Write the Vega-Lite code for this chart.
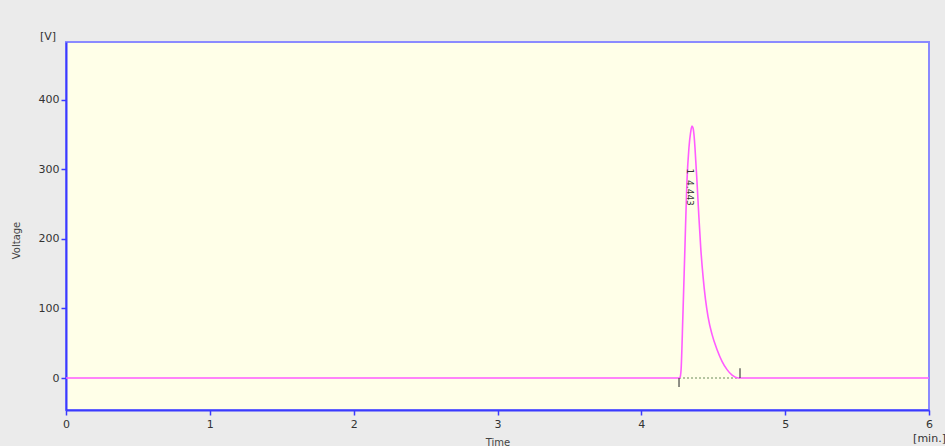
{
  "$schema": "https://vega.github.io/schema/vega-lite/v6.json",
  "width": 863,
  "height": 368,
  "autosize": "none",
  "padding": {"left": 66, "top": 42, "right": 16, "bottom": 36},
  "background": "#ebebeb",
  "config": {
    "view": {"fill": "#ffffe8", "stroke": "#8a8aff", "strokeWidth": 2},
    "font": "DejaVu Sans",
    "axis": {"grid": false, "domainColor": "#3a3aff", "domainWidth": 2, "tickColor": "#3a3aff", "tickWidth": 1.5, "tickSize": 5, "labelColor": "#333333", "labelFontSize": 11, "labelFont": "DejaVu Sans", "titleFont": "DejaVu Sans", "titleFontSize": 10, "titleFontWeight": "normal", "titleColor": "#444444"}
  },
  "title": {"text": "[V]", "anchor": "start", "frame": "group", "dx": -26, "offset": 0, "fontSize": 11, "fontWeight": "normal", "color": "#333333", "font": "DejaVu Sans"},
  "datasets": {
    "trace": [
      {"t": 0, "v": 0}, {"t": 4.262, "v": 0}, {"t": 4.269, "v": 1}, {"t": 4.276, "v": 11}, {"t": 4.289, "v": 90},
      {"t": 4.303, "v": 187}, {"t": 4.317, "v": 282}, {"t": 4.331, "v": 331}, {"t": 4.342, "v": 352},
      {"t": 4.352, "v": 362}, {"t": 4.36, "v": 359}, {"t": 4.366, "v": 350}, {"t": 4.373, "v": 331}, {"t": 4.387, "v": 282},
      {"t": 4.4, "v": 232}, {"t": 4.413, "v": 187}, {"t": 4.429, "v": 146}, {"t": 4.446, "v": 113}, {"t": 4.464, "v": 88}, {"t": 4.491, "v": 63},
      {"t": 4.526, "v": 41}, {"t": 4.561, "v": 24}, {"t": 4.596, "v": 12}, {"t": 4.631, "v": 4},
      {"t": 4.673, "v": 0}, {"t": 6, "v": 0}
    ],
    "base": [{"t": 4.262, "v": 0}, {"t": 4.686, "v": 0}],
    "marks": [{"t": 4.262, "v0": 0, "v1": -13}, {"t": 4.686, "v0": 0, "v1": 14}],
    "labels": [{"t": 4.339, "v": 297, "txt": "1"}, {"t": 4.339, "v": 266, "txt": "4.443"}]
  },
  "layer": [
    {
      "data": {"name": "base"},
      "mark": {"type": "line", "color": "#6a8a5a", "strokeWidth": 1, "strokeDash": [2, 2]},
      "encoding": {
        "x": {"field": "t", "type": "quantitative", "scale": {"domain": [0, 6], "nice": false},
          "axis": {"values": [0, 1, 2, 3, 4, 5, 6], "format": "d", "labelPadding": 3, "labelExpr": "datum.value == 6 ? ['6', '[min.]'] : datum.label", "labelLineHeight": 14, "title": "Time", "titleY": 27, "titleBaseline": "top", "labelFlush": false}},
        "y": {"field": "v", "type": "quantitative", "scale": {"domain": [-46, 483], "nice": false, "zero": false},
          "axis": {"values": [0, 100, 200, 300, 400], "labelPadding": 2, "title": "Voltage", "titleX": -50, "titleY": 198, "titleAngle": -90, "titleAlign": "center", "titleBaseline": "middle"}}
      }
    },
    {
      "data": {"name": "trace"},
      "mark": {"type": "line", "color": "#ff5cff", "strokeWidth": 1.6, "interpolate": "monotone"},
      "encoding": {
        "x": {"field": "t", "type": "quantitative"},
        "y": {"field": "v", "type": "quantitative"}
      }
    },
    {
      "data": {"name": "marks"},
      "mark": {"type": "rule", "color": "#444444", "strokeWidth": 1.2},
      "encoding": {
        "x": {"field": "t", "type": "quantitative"},
        "y": {"field": "v0", "type": "quantitative"},
        "y2": {"field": "v1"}
      }
    },
    {
      "data": {"name": "labels"},
      "mark": {"type": "text", "angle": 90, "fontSize": 9, "color": "#333333", "align": "center", "baseline": "middle"},
      "encoding": {
        "x": {"field": "t", "type": "quantitative"},
        "y": {"field": "v", "type": "quantitative"},
        "text": {"field": "txt"}
      }
    }
  ]
}
